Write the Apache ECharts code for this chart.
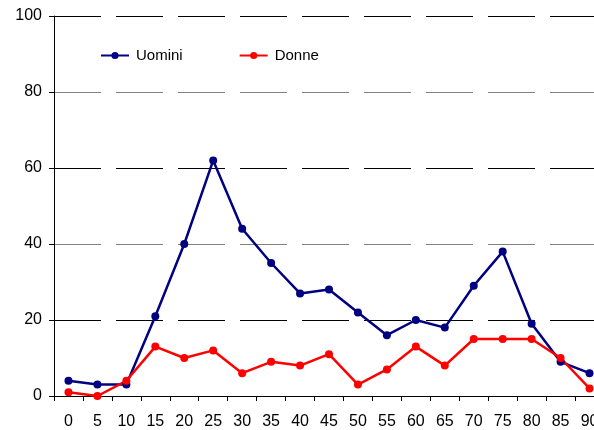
<!DOCTYPE html>
<html>
<head>
<meta charset="utf-8">
<script src="https://cdn.jsdelivr.net/npm/echarts@6/dist/echarts.min.js"></script>
<style>
	html, body { margin: 0; padding: 0; background: #fff; overflow: hidden; }
	/* plot runs past the right edge of the window, like in the original */
	#main { width: 604px; height: 430px; }
</style>
</head>
<body>
<div id="main"></div>
<script>
var categories = ['0','5','10','15','20','25','30','35','40','45','50','55','60','65','70','75','80','85','90'];
var uomini = [4, 3, 3, 21, 40, 62, 44, 35, 27, 28, 22, 16, 20, 18, 29, 38, 19, 9, 6];
var donne = [1, 0, 4, 13, 10, 12, 6, 9, 8, 11, 3, 7, 13, 8, 15, 15, 15, 10, 2];
var yTicks = [0, 20, 40, 60, 80, 100];

var option = {
	animation: false,
	textStyle: { fontFamily: 'Liberation Sans, Arial, sans-serif' },
	grid: { left: 54, top: 16, right: 0, bottom: 34 },
	legend: {
		left: 100,
		top: 48,
		padding: 0,
		itemWidth: 28,
		itemHeight: 9,
		itemGap: 56,
		textStyle: { fontSize: 15, color: '#000', padding: [0, 0, 0, 2] },
		data: ['Uomini', 'Donne']
	},
	xAxis: {
		type: 'category',
		data: categories,
		boundaryGap: true,
		axisLine: { lineStyle: { color: '#000', width: 1 } },
		axisTick: { show: true, length: 5, lineStyle: { color: '#000' } },
		axisLabel: { fontSize: 16, color: '#000', margin: 18, interval: 0 }
	},
	yAxis: {
		type: 'value',
		min: yTicks[0],
		max: yTicks[yTicks.length - 1],
		interval: 20,
		axisLine: { show: true, lineStyle: { color: '#000', width: 1 } },
		axisTick: { show: true, length: 5, lineStyle: { color: '#000' } },
		axisLabel: { fontSize: 16, color: '#000', margin: 12 },
		splitLine: {
			show: true,
			lineStyle: { color: ['#808080', '#000000'], width: 1, type: [47, 15] }
		}
	},
	series: [
		{
			name: 'Uomini',
			type: 'line',
			data: uomini,
			symbol: 'circle',
			symbolSize: 8,
			color: '#000080',
			lineStyle: { width: 2.5, color: '#000080' },
			itemStyle: { color: '#000080' }
		},
		{
			name: 'Donne',
			type: 'line',
			data: donne,
			symbol: 'circle',
			symbolSize: 8,
			color: '#ff0000',
			lineStyle: { width: 2.5, color: '#ff0000' },
			itemStyle: { color: '#ff0000' }
		}
	]
};

var myChart = echarts.init(document.getElementById('main'));
myChart.setOption(option);
</script>
</body>
</html>
